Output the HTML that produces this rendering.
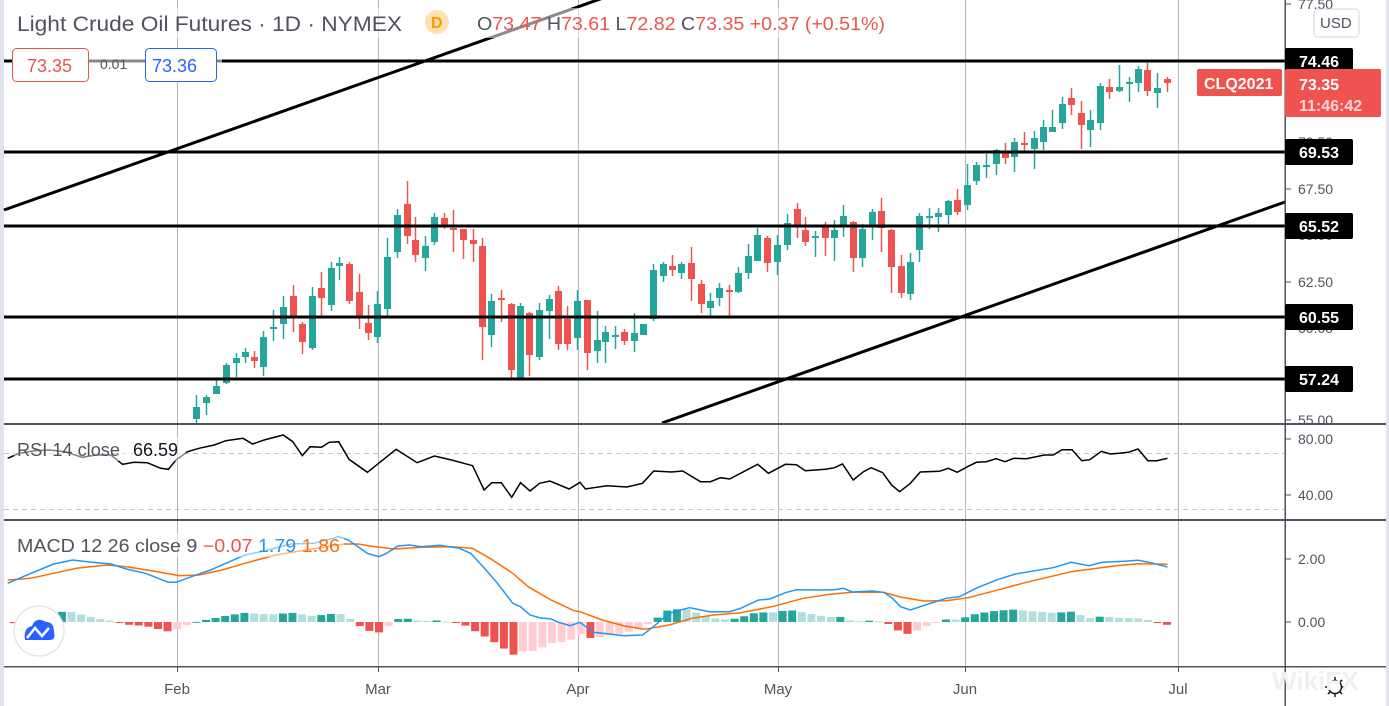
<!DOCTYPE html>
<html><head><meta charset="utf-8">
<style>
html,body{margin:0;padding:0;background:#fff;}
body{width:1389px;height:706px;overflow:hidden;position:relative;font-family:"Liberation Sans",sans-serif;}
svg{position:absolute;left:0;top:0;}
</style></head>
<body>
<svg id="c" width="1389" height="706" xmlns="http://www.w3.org/2000/svg"></svg>
<script>
const S=document.getElementById('c');let h='';
const G='#26a69a',R='#ef5350';
h+='<rect x="0" y="0" width="4" height="706" fill="#e0e3eb"/>';
h+='<rect x="1386" y="0" width="3" height="706" fill="#e0e3eb"/>';
[177,378,578,778,965,1178].forEach(x=>{h+=`<line x1="${x+.5}" y1="0" x2="${x+.5}" y2="667" stroke="#b2b5be" stroke-width="1"/>`;});
h+='<line x1="4" y1="453.5" x2="1285" y2="453.5" stroke="#c0c3ca" stroke-dasharray="5,4"/>';
h+='<line x1="4" y1="509.5" x2="1285" y2="509.5" stroke="#c0c3ca" stroke-dasharray="5,4"/>';
const C=[[196,407,419,395,423,G],[206,397,403,395,415,G],[216,386,394,379,394,G],[226,365,383,363,384,G],[236,358,363,353,377,G],[245,352,357,348,363,G],[254,357,361,351,368,R],[263,337,367,331,376,G],[273,327,329,310,341,G],[283,307,324,296,339,G],[293,296,316,285,332,R],[302,324,342,322,354,R],[312,296,348,287,350,G],[321,288,298,272,316,R],[331,268,305,262,311,G],[339,263,266,257,280,G],[349,264,301,262,304,R],[359,292,316,274,329,R],[368,323,333,305,340,R],[377,304,337,291,343,G],[387,257,309,238,316,G],[397,215,252,209,258,G],[407,204,236,181,244,R],[415,240,255,217,262,R],[425,246,258,236,271,G],[434,217,242,213,245,G],[444,218,225,213,229,R],[453,228,229,210,252,R],[463,229,240,229,259,R],[473,240,244,229,262,R],[482,246,327,238,360,R],[491,301,335,294,347,G],[501,298,300,290,322,R],[511,304,370,303,378,R],[520,306,378,303,378,G],[529,313,355,312,376,R],[539,310,357,303,360,G],[549,299,311,295,339,G],[558,291,344,286,350,R],[567,319,344,306,350,R],[577,301,338,290,350,G],[587,300,353,300,370,R],[597,340,351,311,363,G],[605,332,342,326,363,G],[615,335,337,326,349,G],[624,332,341,329,345,R],[634,333,341,313,352,G],[643,324,335,324,335,G],[653,270,319,264,321,G],[663,264,276,262,282,G],[672,266,270,255,276,R],[681,264,273,262,279,G],[691,263,279,247,301,R],[701,284,304,280,313,R],[710,301,308,293,316,G],[719,288,298,283,306,G],[729,290,292,285,316,R],[738,273,292,267,293,G],[748,256,273,244,279,G],[757,235,261,228,261,G],[767,238,263,236,272,R],[777,245,262,235,275,G],[787,223,245,214,250,G],[797,209,225,203,238,R],[805,230,242,217,246,R],[815,236,238,231,257,G],[825,227,238,222,256,R],[834,230,238,220,261,G],[843,216,227,205,237,G],[853,222,258,221,272,R],[862,229,258,224,267,G],[872,212,226,209,240,G],[881,211,228,198,252,R],[891,230,267,229,293,R],[901,266,293,255,298,R],[910,262,294,253,300,G],[919,216,250,213,262,G],[929,216,218,208,229,G],[938,213,217,208,232,G],[948,201,215,200,224,G],[957,200,212,189,215,R],[967,185,205,164,210,G],[976,165,181,162,185,G],[986,165,167,154,178,G],[996,150,164,149,175,G],[1005,152,158,143,164,R],[1014,142,157,138,172,G],[1024,143,145,132,151,R],[1034,138,149,131,169,G],[1043,127,142,120,150,G],[1052,127,132,110,132,G],[1062,104,123,97,129,G],[1071,98,105,88,115,R],[1081,113,125,101,149,R],[1090,120,130,110,147,G],[1100,86,123,83,130,G],[1109,87,92,79,99,R],[1119,87,91,65,92,G],[1129,82,84,77,102,G],[1138,69,83,66,92,G],[1147,70,91,63,96,R],[1157,88,93,73,108,G],[1167,79,83,77,92,R]];
C.forEach(c=>{h+=`<line x1="${c[0]+.5}" y1="${c[3]}" x2="${c[0]+.5}" y2="${c[4]}" stroke="${c[5]}" stroke-width="1.5"/>`;
h+=`<rect x="${c[0]-3}" y="${c[1]}" width="7" height="${Math.max(2,c[2]-c[1])}" fill="${c[5]}"/>`;});
[61,152,226,317,379].forEach(y=>{h+=`<line x1="4" y1="${y}" x2="1285" y2="${y}" stroke="#000" stroke-width="3"/>`;});
h+='<line x1="4" y1="210" x2="603" y2="-2" stroke="#000" stroke-width="3"/>';
h+='<line x1="662" y1="423" x2="1285" y2="202" stroke="#000" stroke-width="3"/>';
const r6=[[20,115],[50,100],[90,92],[130,90],[170,95],[215,112],[250,105],[290,105],[320,133],[350,127],[385,128],[420,145],[440,148],[460,120],[490,95],[520,85],[560,75],[590,62],[635,55],[660,72],[690,60],[740,45],[765,65],[790,107],[810,80],[840,82],[860,67],[885,65],[912,118],[960,157],[1035,88],[1090,128],[1135,108],[1180,120],[1235,137],[1265,210],[1285,188],[1310,188],[1337,232],[1360,188],[1385,213],[1410,190],[1437,183],[1487,207]];
const r7=[[0,172],[12,192],[60,182],[105,186],[140,175],[165,138],[205,141],[230,138],[270,170],[292,170],[315,158],[335,162],[398,118],[422,145],[460,118],[485,119],[505,137],[550,133],[570,128],[588,117],[612,165],[635,140],[652,128],[678,143],[698,180],[716,200],[740,175],[762,141],[805,139],[825,130],[845,142],[868,125],[888,112],[910,110],[932,101],[952,110],[972,100],[1000,101],[1040,90],[1060,90],[1080,74],[1102,74],[1124,107],[1142,104],[1168,79],[1188,87],[1208,85],[1228,82],[1250,72],[1272,107],[1292,107],[1316,100]];
let pts=r6.map(p=>[p[0]/2.613,420+p[1]/3]).concat(r7.map(p=>[580+p[0]/2.24,425+p[1]/3]));
h+=`<polyline points="${pts.map(p=>p[0].toFixed(1)+','+p[1].toFixed(1)).join(' ')}" fill="none" stroke="#000" stroke-width="1.5"/>`;
const b6=[[20,490],[60,470],[140,432],[190,420],[240,427],[290,432],[330,447],[380,460],[440,487],[460,487],[500,470],[550,450],[590,430],[640,405],[690,393],[760,372],[820,370],[885,350],[910,360],[960,400],[990,410],[1010,400],[1040,378],[1070,375],[1100,380],[1150,376],[1200,385],[1230,400],[1270,450],[1300,490],[1340,550],[1360,560],[1385,585],[1410,593],[1440,597],[1460,607],[1490,617]];
const b7=[[0,592],[30,622],[100,632],[140,630],[160,610],[200,565],[245,548],[290,560],[335,560],[360,550],[400,525],[425,522],[460,503],[485,494],[540,495],[570,494],[590,490],[610,501],[655,498],[680,502],[700,520],[718,545],[740,555],[785,535],[820,520],[850,515],[890,488],[935,464],[975,447],[1060,428],[1100,412],[1140,422],[1170,412],[1220,409],[1250,406],[1275,412],[1316,426]];
const o6=[[20,480],[80,475],[140,460],[200,445],[280,435],[330,440],[400,453],[470,467],[520,465],[580,450],[640,430],[720,405],[800,390],[900,372],[935,372],[980,380],[1030,387],[1100,382],[1180,380],[1235,385],[1280,415],[1340,460],[1380,500],[1440,540],[1500,572]];
const o7=[[0,560],[50,585],[100,603],[145,613],[200,600],[250,580],[300,570],[360,563],[430,545],[500,520],[560,508],[610,502],[680,502],[720,517],[770,528],[820,527],[870,518],[950,490],[1000,472],[1100,440],[1200,422],[1250,416],[1316,418]];
const cv6=p=>[p[0]/2.613,420+p[1]/3],cv7=p=>[580+p[0]/2.24,425+p[1]/3];
const B=b6.map(cv6).concat(b7.map(cv7)),O=o6.map(cv6).concat(o7.map(cv7));
function interp(L,x){if(x<=L[0][0])return L[0][1];for(let i=1;i<L.length;i++){if(x<=L[i][0]){const t=(x-L[i-1][0])/(L[i][0]-L[i-1][0]);return L[i-1][1]+t*(L[i][1]-L[i-1][1]);}}return L[L.length-1][1];}
let xs=[];for(let x=1167;x>=5;x-=9.61)xs.unshift(x);
let prev=null;
xs.forEach(x=>{let d=(interp(O,x)-interp(B,x))*1.1;let col;
if(d>=0)col=(prev!==null&&d<prev)?'#b2dfdb':G;else col=(prev!==null&&d>prev)?'#ffcdd2':R;prev=d;
const y=d>=0?622-d:622;h+=`<rect x="${(x-4).toFixed(1)}" y="${y.toFixed(1)}" width="8" height="${Math.max(1,Math.abs(d)).toFixed(1)}" fill="${col}"/>`;});
h+=`<polyline points="${O.map(p=>p[0].toFixed(1)+','+p[1].toFixed(1)).join(' ')}" fill="none" stroke="#ff6d00" stroke-width="1.5"/>`;
h+=`<polyline points="${B.map(p=>p[0].toFixed(1)+','+p[1].toFixed(1)).join(' ')}" fill="none" stroke="#2196f3" stroke-width="1.5"/>`;
h+='<rect x="4" y="423" width="1382" height="2" fill="#50535e"/>';
h+='<rect x="4" y="519" width="1382" height="2" fill="#50535e"/>';
h+='<rect x="4" y="666" width="1382" height="1.5" fill="#50535e"/>';
h+='<rect x="1284.5" y="0" width="1.5" height="706" fill="#50535e"/>';
[177,378,578,778,965,1178].forEach(x=>{h+=`<line x1="${x+.5}" y1="667" x2="${x+.5}" y2="672" stroke="#50535e"/>`;});
const tx=(x,y,t,s,c,extra='')=>`<text x="${x}" y="${y}" font-size="${s}" fill="${c}" font-family="Liberation Sans, sans-serif" ${extra}>${t}</text>`;
[[4,'77.50'],[189,'67.50'],[282,'62.50'],[420,'55.00'],[142,'72.50'],[235,'65.00'],[328,'60.00']].forEach(a=>{h+=`<line x1="1285" y1="${a[0]}" x2="1291" y2="${a[0]}" stroke="#50535e"/>`+tx(1298,a[0]+5,a[1],14,'#50535e');});
[[439,'80.00'],[495,'40.00'],[559,'2.00'],[622,'0.00']].forEach(a=>{h+=`<line x1="1285" y1="${a[0]}" x2="1291" y2="${a[0]}" stroke="#50535e"/>`+tx(1298,a[0]+5,a[1],14,'#50535e');});
[[61,'74.46'],[152,'69.53'],[226,'65.52'],[317,'60.55'],[379,'57.24']].forEach(a=>{h+=`<rect x="1285" y="${a[0]-13}" width="68" height="26" rx="2" fill="#000"/>`+tx(1299,a[0]+6,a[1],16,'#fff','font-weight="bold"');});
h+='<rect x="1285" y="69" width="96" height="48" rx="2" fill="#ef5350"/>'+tx(1299,90,'73.35',16,'#fff','font-weight="bold"')+tx(1299,111,'11:46:42',16,'#ffd6d6','font-weight="bold"');
h+='<rect x="1197" y="69" width="85" height="27" rx="2" fill="#ef5350"/>'+tx(1204,89,'CLQ2021',16,'#fff','font-weight="bold"');
h+='<rect x="1314" y="9" width="45" height="28" rx="4" fill="#fff" stroke="#d1d4dc"/>'+tx(1320,28,'USD',15,'#50535e');
h+='<rect x="12" y="8" width="880" height="30" fill="#fff" fill-opacity="0.55"/>';
h+=tx(17,31,'Light Crude Oil Futures · 1D · NYMEX',21,'#50535e','textLength="385" lengthAdjust="spacingAndGlyphs"');
h+='<circle cx="437" cy="22" r="12" fill="#ffe0b2"/>'+tx(431,28,'D',16,'#ff9800','font-weight="bold"');
h+=`<text x="477" y="30" font-size="18" font-family="Liberation Sans, sans-serif" fill="#50535e" textLength="408" lengthAdjust="spacingAndGlyphs">O<tspan fill="${R}">73.47</tspan> H<tspan fill="${R}">73.61</tspan> L<tspan fill="${R}">72.82</tspan> C<tspan fill="${R}">73.35 +0.37 (+0.51%)</tspan></text>`;
h+='<line x1="88" y1="61" x2="145" y2="61" stroke="#888" stroke-width="3"/><line x1="216" y1="61" x2="222" y2="61" stroke="#888" stroke-width="3"/>';
h+='<rect x="12.5" y="48.5" width="76" height="33" rx="4" fill="#fff" stroke="#ef5350"/>'+tx(27,72,'73.35',18,R);
h+=tx(100,69,'0.01',14,'#50535e');
h+='<rect x="145.5" y="48.5" width="71" height="33" rx="4" fill="#fff" stroke="#2962ff"/>'+tx(152,72,'73.36',18,'#2962ff');
h+='<rect x="14" y="437" width="172" height="24" fill="#fff" fill-opacity="0.5"/>';
h+=tx(17,456,'RSI 14 close',18,'#50535e','textLength="103" lengthAdjust="spacingAndGlyphs"')+tx(133,456,'66.59',18,'#131722');
h+='<rect x="14" y="533" width="330" height="24" fill="#fff" fill-opacity="0.5"/>';
h+=`<text x="17" y="552" font-size="18" font-family="Liberation Sans, sans-serif" fill="#50535e" textLength="323" lengthAdjust="spacingAndGlyphs">MACD 12 26 close 9 <tspan fill="${R}">\u22120.07</tspan> <tspan fill="#2196f3">1.79</tspan> <tspan fill="#ff6d00">1.86</tspan></text>`;
h+='<circle cx="39" cy="631" r="25" fill="#fff" stroke="#e6e6e6" stroke-width="1.5"/>';
h+='<path d="M25 640 Q23 628 32 626 Q36 616 46 622 Q54 622 54 632 Q56 640 50 640 Z" fill="#2962ff"/><polyline points="27,638 35,628 42,636 49,628" fill="none" stroke="#fff" stroke-width="2.5"/>';
[[177,'Feb'],[378,'Mar'],[578,'Apr'],[778,'May'],[965,'Jun'],[1178,'Jul']].forEach(a=>{h+=tx(a[0],694,a[1],15,'#50535e','text-anchor="middle"');});
h+='<circle cx="1335" cy="687" r="6.5" fill="none" stroke="#131722" stroke-width="1.5"/>';
for(let i=0;i<8;i++){const a=i*Math.PI/4;h+=`<line x1="${1335+7*Math.cos(a)}" y1="${687+7*Math.sin(a)}" x2="${1335+10*Math.cos(a)}" y2="${687+10*Math.sin(a)}" stroke="#131722" stroke-width="1.5"/>`;}
h+=tx(1272,690,'WikiFX',26,'#f0f0f2','font-weight="bold"');
S.innerHTML=h;
</script>
</body></html>
